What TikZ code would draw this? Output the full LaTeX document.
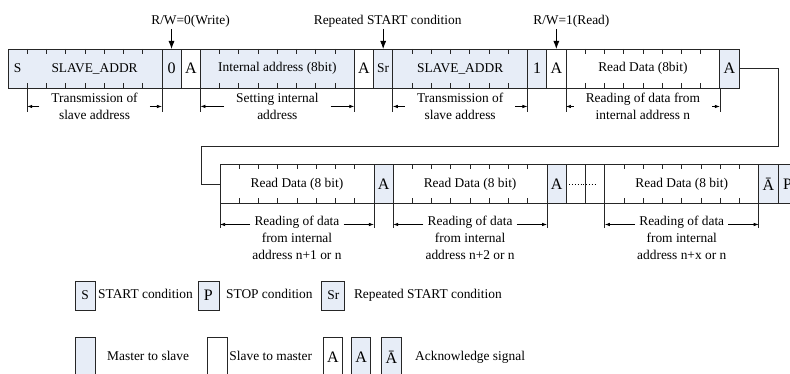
\documentclass[tikz,border=0pt]{standalone}
\usepackage{fontspec}
\setmainfont{Liberation Serif}
\usepackage{xcolor}
\usepackage{tikz}
\usetikzlibrary{arrows.meta,positioning}

\definecolor{mtos}{RGB}{231,237,247}
\newcommand{\bitw}{19.24pt}
\newcommand{\txtsize}{\fontsize{13.4pt}{17pt}\selectfont}
\newcommand{\bigsize}{\fontsize{16pt}{18pt}\selectfont}

\begin{document}
\begin{tikzpicture}[
  x=1pt, y=-1pt,
  font=\txtsize,
  bit/.style={draw=black!85, line width=0.8pt, minimum width=\bitw,
              minimum height=39pt, inner sep=0pt, outer sep=0pt},
  mbit/.style={bit, fill=mtos},
  sbit/.style={bit, fill=white},
  field/.style={minimum width=#1*\bitw},
  frame/.style={draw=black!85, line width=0.8pt},
  bittick/.style={black!85, line width=0.8pt},
  extline/.style={black!85, line width=0.7pt},
  dimarr/.style={-{Latex[length=5pt,width=3.5pt]}, line width=0.7pt},
  pointer/.style={-{Latex[length=8pt,width=6pt]}, line width=0.8pt},
  note/.style={inner sep=1pt},
  lbl/.style={align=center, inner xsep=12pt, inner ysep=0pt},
  lbl2/.style={align=center, inner xsep=2pt, inner ysep=0pt},
  txt/.style={inner sep=0pt, text height=9pt, text depth=3pt}
]
\useasboundingbox (0,0) rectangle (790,374);
% --- first frame: write address, then read ---
\node[mbit, draw=none, anchor=west] (s) at (8,68.5) {S};
\node[mbit, draw=none, field=7, right=0pt of s] (sa1) {SLAVE\_ADDR};
\draw[frame] (s.north west) rectangle (sa1.south east);
\node[mbit, font=\bigsize, right=0pt of sa1] (w0) {0};
\node[sbit, font=\bigsize, right=0pt of w0] (a1) {A};
\node[mbit, field=8, right=0pt of a1] (ia) {Internal address (8bit)};
\node[sbit, font=\bigsize, right=0pt of ia] (a2) {A};
\node[mbit, right=0pt of a2] (sr) {Sr};
\node[mbit, field=7, right=0pt of sr] (sa2) {SLAVE\_ADDR};
\node[mbit, font=\bigsize, right=0pt of sa2] (r1) {1};
\node[sbit, font=\bigsize, right=0pt of r1] (a3) {A};
\node[sbit, field=8, right=0pt of a3] (rd0) {Read Data (8bit)};
\node[mbit, font=\bigsize, right=0pt of rd0] (a4) {A};
% --- second frame: following data bytes ---
\node[sbit, field=8, anchor=west] (rd1) at (220,184) {Read Data (8 bit)};
\node[mbit, font=\bigsize, right=0pt of rd1] (a5) {A};
\node[sbit, field=8, right=0pt of a5] (rd2) {Read Data (8 bit)};
\node[mbit, font=\bigsize, right=0pt of rd2] (a6) {A};
\node[sbit, right=0pt of a6] (gap1) {};
\node[sbit, right=0pt of gap1] (gap2) {};
\node[sbit, field=8, right=0pt of gap2] (rd3) {Read Data (8 bit)};
\node[mbit, font=\bigsize, right=0pt of rd3] (na) {Ā};
\node[mbit, font=\bigsize, right=0pt of na] (stop) {P};
\draw[dotted, line width=0.8pt] ([xshift=3pt]gap1.west) -- ([xshift=11pt]gap2.west);
% --- bit ticks ---
\foreach \f/\a/\b in {sa1/0/6, ia/1/7, sa2/1/6, rd0/1/7, rd1/1/7, rd2/1/7, rd3/1/7}
  \foreach \k in {\a,...,\b} {
    \draw[bittick] ([xshift=\k*\bitw]\f.north west) -- ++(0,5);
    \draw[bittick] ([xshift=\k*\bitw]\f.south west) -- ++(0,-5);
  }
% --- continuation line ---
\coordinate (bendr) at (778,146);
\coordinate (bendl) at (201,146);
\draw[frame] (a4.east) -| (bendr) -- (bendl) |- (rd1.west);
% --- markers above ---
\node[note, above=20pt of w0, xshift=19pt] (rw0) {R/W=0(Write)};
\node[note, above=20pt of sr, xshift=4.5pt] (rs) {Repeated START condition};
\node[note, above=20pt of a3, xshift=15pt] (rw1) {R/W=1(Read)};
\draw[pointer] (rw0.south -| w0.north) -- (w0.north);
\draw[pointer] (rs.south -| sr.north) -- (sr.north);
\draw[pointer] (rw1.south -| a3.north) -- (a3.north);
% --- field labels ---
\node[lbl, below=5pt of sa1] (d1) {Transmission of\\slave address};
\node[lbl, below=5pt of ia] (d2) {Setting internal\\address};
\node[lbl, below=5pt of sa2] (d3) {Transmission of\\slave address};
\node[lbl, below=5pt of rd0] (d4) {Reading of data from\\internal address n};
\node[lbl2, below=12pt of rd1] (d5) {Reading of data\\from internal\\address n+1 or n};
\node[lbl2, below=12pt of rd2] (d6) {Reading of data\\from internal\\address n+2 or n};
\node[lbl2, below=12pt of rd3] (d7) {Reading of data\\from internal\\address n+x or n};
\foreach \f/\d/\h/\l in {sa1/d1/0/24, ia/d2/0/24, sa2/d3/0/24, rd0/d4/0/24,
                         rd1/d5/13/25, rd2/d6/13/25, rd3/d7/13/25} {
  \draw[extline] (\f.south west) -- ++(0,\l);
  \draw[extline] (\f.south east) -- ++(0,\l);
  \draw[dimarr] ([yshift=\h pt]\d.west) -- ([yshift=\h pt]\d.west -| \f.west);
  \draw[dimarr] ([yshift=\h pt]\d.east) -- ([yshift=\h pt]\d.east -| \f.east);
}
% --- legend ---
\node[mbit, minimum height=29pt, minimum width=20pt] (ls) at (85,295.5) {S};
\node[txt, right=3pt of ls] (lst) {START condition};
\node[mbit, minimum height=29pt, minimum width=21pt, font=\bigsize, right=5pt of lst] (lp) {P};
\node[txt, right=7pt of lp] (lpt) {STOP condition};
\node[mbit, minimum height=29pt, minimum width=23pt, right=9pt of lpt] (lsr) {Sr};
\node[txt, right=9pt of lsr] (lsrt) {Repeated START condition};
\node[mbit, minimum width=20pt] (lm) at (85,357) {};
\node[txt, right=12pt of lm] (lmt) {Master to slave};
\node[sbit, minimum width=20pt, right=18pt of lmt] (lw) {};
\node[txt, right=2pt of lw] (lwt) {Slave to master};
\node[sbit, font=\bigsize, right=11pt of lwt] (la1) {A};
\node[mbit, font=\bigsize, right=9pt of la1] (la2) {A};
\node[mbit, font=\bigsize, right=11pt of la2] (la3) {Ā};
\node[txt, right=14pt of la3] (lat) {Acknowledge signal};
\end{tikzpicture}
\end{document}
